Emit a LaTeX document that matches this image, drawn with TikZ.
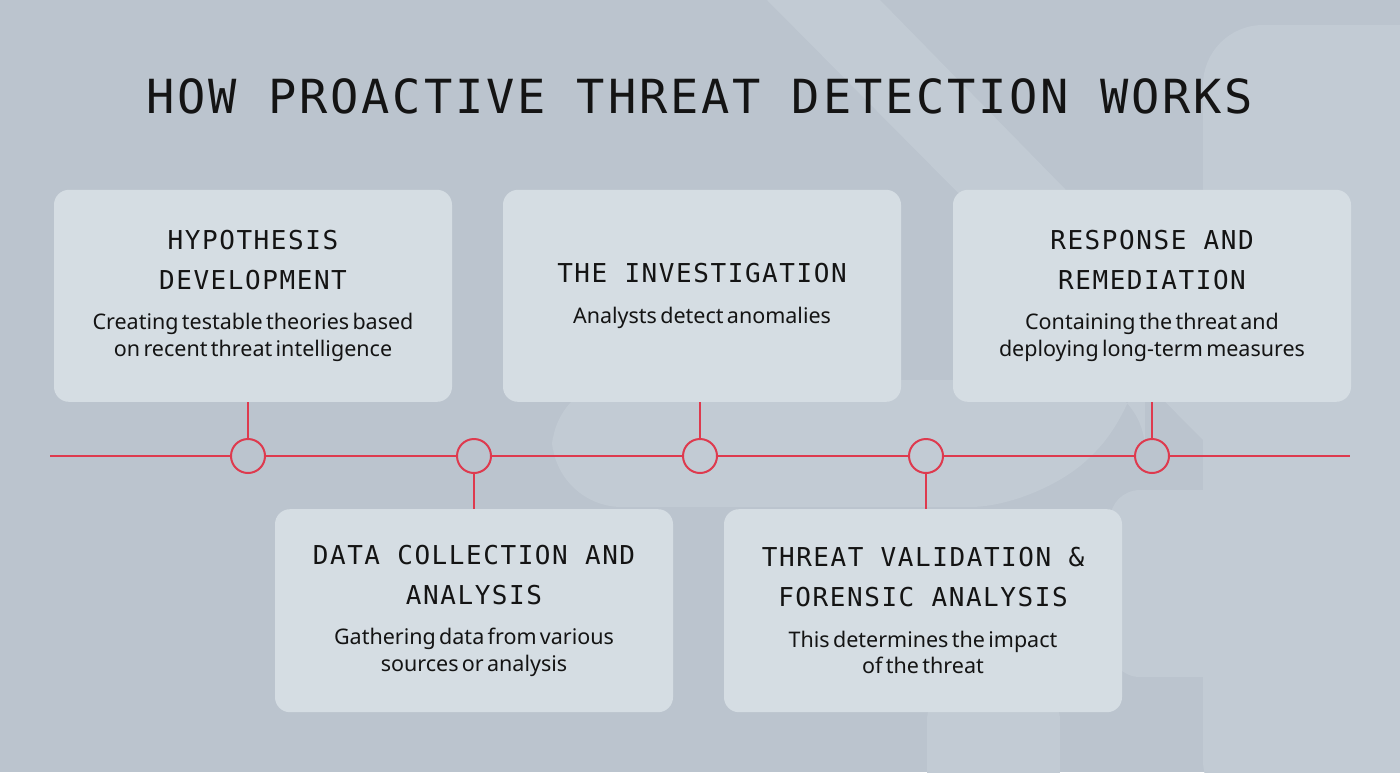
\documentclass[tikz,border=0pt]{standalone}
\usepackage{fontspec}
\setmainfont{Noto Sans}
\newfontfamily\titlefont[LetterSpace=6]{DejaVu Sans Mono}
\newfontfamily\headfont[LetterSpace=6]{DejaVu Sans Mono}
\usetikzlibrary{positioning}

\definecolor{bgbase}{HTML}{BBC4CE}
\definecolor{bglight}{HTML}{C2CBD4}
\definecolor{cardfill}{HTML}{D5DDE3}
\definecolor{railred}{HTML}{DE3A4E}
\definecolor{inktext}{HTML}{141414}

\newcommand{\cardtext}[2]{{\headfont\fontsize{26}{40}\selectfont\spaceskip=17.2pt #1\par}\vspace{14pt}{\fontsize{21.5}{26.5}\selectfont #2\par}}

\begin{document}
\begin{tikzpicture}[x=1pt,y=-1pt,node distance=190pt,
    card/.style={rounded corners=15pt,fill=cardfill,minimum width=398pt,text width=390pt,align=center,inner sep=0pt,text=inktext},
    tall card/.style={card,minimum height=212pt},
    short card/.style={card,minimum height=203pt},
    dot/.style={circle,draw=railred,line width=2pt,minimum size=34pt,inner sep=0pt},
    rail/.style={draw=railred,line width=2pt}]

    \useasboundingbox (0,0) rectangle (1400,772);
    \fill[bgbase] (0,0) rectangle (1400,772);
    \fill[bglight] (767,0) -- (880,0) -- (1203,330) -- (1203,440) -- cycle;
    \fill[bglight,rounded corners=60pt] (1203,820) -- (1203,25) -- (1460,25) -- (1460,820) -- cycle;
    \fill[bglight,rounded corners=70pt] (552,380) -- (552,507) -- (1040,507) -- (1145,402) -- (1145,380) -- cycle;
    \fill[bglight,rounded corners=30pt] (1250,490) -- (1110,490) -- (1110,677) -- (1250,677);
    \fill[bglight,rounded corners=30pt] (927,690) -- (927,800) -- (1060,800) -- (1060,690) -- cycle;

    \node[font={\titlefont\fontsize{47}{47}\selectfont\spaceskip=31.2pt},anchor=base,text=inktext] (title) at (700,113) {HOW PROACTIVE THREAT DETECTION WORKS};

    \node[dot] (dot1) at (248,456) {};
    \node[dot,right=of dot1] (dot2) {};
    \node[dot,right=of dot2] (dot3) {};
    \node[dot,right=of dot3] (dot4) {};
    \node[dot,right=of dot4] (dot5) {};
    \coordinate (railL) at (50,456);
    \coordinate (railR) at (1350,456);

    \node[tall card,above=36pt of dot1,xshift=5pt] (hyp) {\cardtext{HYPOTHESIS\\DEVELOPMENT}{Creating testable theories based\\on recent threat intelligence}};
    \node[tall card,above=36pt of dot3,xshift=2pt] (inv) {\cardtext{THE INVESTIGATION}{Analysts detect anomalies}};
    \node[tall card,above=36pt of dot5] (res) {\cardtext{RESPONSE AND\\REMEDIATION}{Containing the threat and\\deploying long-term measures}};
    \node[short card,below=35pt of dot2] (col) {\cardtext{DATA COLLECTION AND\\ANALYSIS}{Gathering data from various\\sources or analysis}};
    \node[short card,below=35pt of dot4,xshift=-3pt] (val) {\cardtext{THREAT VALIDATION \&\\FORENSIC ANALYSIS}{This determines the impact\\of the threat}};

    \draw[rail] (railL) -- (dot1) -- (dot2) -- (dot3) -- (dot4) -- (dot5) -- (railR);
    \draw[rail] (dot1) -- (dot1 |- hyp.south);
    \draw[rail] (dot3) -- (dot3 |- inv.south);
    \draw[rail] (dot5) -- (dot5 |- res.south);
    \draw[rail] (dot2) -- (dot2 |- col.north);
    \draw[rail] (dot4) -- (dot4 |- val.north);
\end{tikzpicture}
\end{document}
